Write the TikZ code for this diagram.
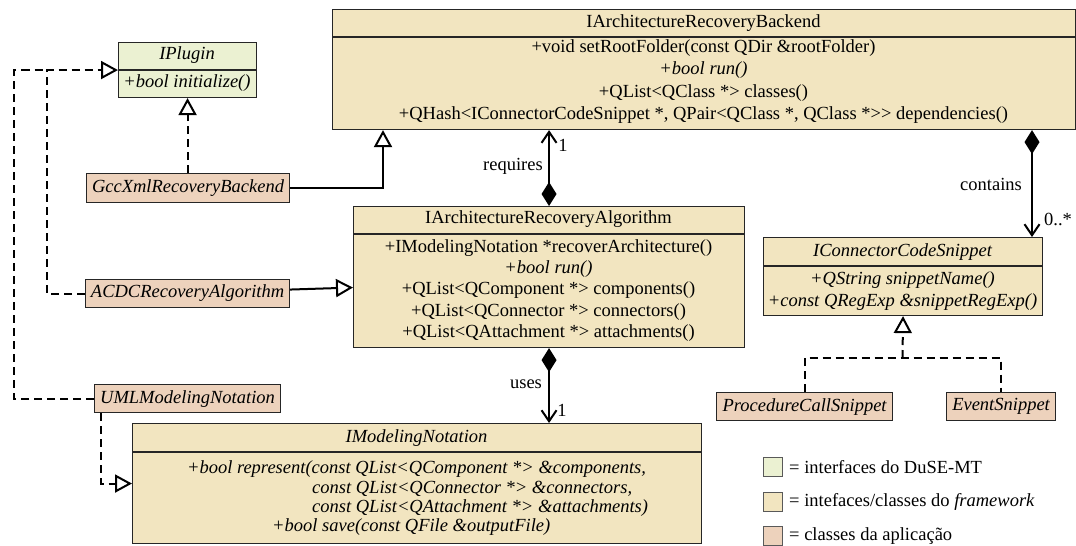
\documentclass[tikz,border=0pt]{standalone}
\usepackage{fontspec}
\setmainfont{Liberation Serif}
\usetikzlibrary{arrows.meta}
\definecolor{plug}{RGB}{235,241,210}
\definecolor{frame}{RGB}{242,229,192}
\definecolor{app}{RGB}{237,210,188}
\begin{document}
\begin{tikzpicture}[x=1pt,y=-1pt,
  every node/.style={font=\fontsize{18.5}{20.5}\selectfont},
  cls/.style={draw=black!85, line width=1.1pt, inner sep=0pt, anchor=north west},
  dv/.style={draw=black!85, line width=1.1pt},
  ln/.style={inner sep=0pt, text height=13pt, text depth=4pt},
  it/.style={font=\fontsize{18.5}{20.5}\selectfont\itshape},
  conn/.style={line width=2pt},
  dconn/.style={line width=2pt, dash pattern=on 8pt off 5pt},
  real/.style={-{Triangle[open,length=17pt,width=18pt]}},
  comp/.style={{Diamond[length=24pt,width=15pt]}-{Straight Barb[length=11pt,width=15pt]}},
  leg/.style={draw=black!65, line width=0.9pt, minimum size=19pt, inner sep=0pt}
]
\useasboundingbox (0,0) rectangle (1076,546);

% ---------- class boxes ----------
\node[cls, fill=plug, minimum width=138pt, minimum height=55pt] (iplugin) at (118,42) {};
\draw[dv] (118,70) -- (256,70);
\node[ln, it] (iplugin-t) at (187,55) {IPlugin};
\node[ln, it] (iplugin-m) at (187,83) {+bool initialize()};

\node[cls, fill=frame, minimum width=743pt, minimum height=120pt] (backend) at (332,9) {};
\draw[dv] (332,37) -- (1075,37);
\node[ln] (backend-t) at (703.5,23) {IArchitectureRecoveryBackend};
\node[ln] (backend-1) at (703.5,48) {+void setRootFolder(const QDir \&rootFolder)};
\node[ln, it] (backend-2) at (703.5,70) {+bool run()};
\node[ln] (backend-3) at (703.5,93) {+QList<QClass *> classes()};
\node[ln] (backend-4) at (703.5,115) {+QHash<IConnectorCodeSnippet *, QPair<QClass *, QClass *>{}> dependencies()};

\node[cls, fill=frame, minimum width=391pt, minimum height=141pt] (alg) at (353,206) {};
\draw[dv] (353,234) -- (744,234);
\node[ln] (alg-t) at (548.5,219) {IArchitectureRecoveryAlgorithm};
\node[ln] (alg-1) at (548.5,248) {+IModelingNotation *recoverArchitecture()};
\node[ln, it] (alg-2) at (548.5,269) {+bool run()};
\node[ln] (alg-3) at (548.5,290) {+QList<QComponent *> components()};
\node[ln] (alg-4) at (548.5,312) {+QList<QConnector *> connectors()};
\node[ln] (alg-5) at (548.5,333) {+QList<QAttachment *> attachments()};

\node[cls, fill=frame, minimum width=279pt, minimum height=78pt] (snip) at (763,237) {};
\draw[dv] (763,266) -- (1042,266);
\node[ln, it] (snip-t) at (902.5,252) {IConnectorCodeSnippet};
\node[ln, it] (snip-1) at (902.5,280) {+QString snippetName()};
\node[ln, it] (snip-2) at (902.5,302) {+const QRegExp \&snippetRegExp()};

\node[cls, fill=frame, minimum width=569pt, minimum height=120pt] (imod) at (132,423) {};
\draw[dv] (132,452) -- (701,452);
\node[ln, it] (imod-t) at (416.5,438) {IModelingNotation};
\node[ln, it] (imod-1) at (416.5,469) {+bool represent(const QList<QComponent *> \&components,};
\node[ln, it, anchor=west] (imod-2) at (312,488.5) {const QList<QConnector *> \&connectors,};
\node[ln, it, anchor=west] (imod-3) at (312,507.5) {const QList<QAttachment *> \&attachments)};
\node[ln, it, anchor=west] (imod-4) at (272,526.5) {+bool save(const QFile \&outputFile)};

\node[cls, fill=app, minimum width=203pt, minimum height=29pt, it] (gcc) at (86,173) {GccXmlRecoveryBackend};
\node[cls, fill=app, minimum width=204pt, minimum height=28pt, it] (acdc) at (85,279) {ACDCRecoveryAlgorithm};
\node[cls, fill=app, minimum width=186pt, minimum height=28pt, it] (uml) at (94,384) {UMLModelingNotation};
\node[cls, fill=app, minimum width=176pt, minimum height=28pt, it] (proc) at (716,392) {ProcedureCallSnippet};
\node[cls, fill=app, minimum width=109pt, minimum height=28pt, it] (event) at (946,392) {EventSnippet};

% ---------- helper coordinates ----------
\coordinate (x14) at (14,0);
\coordinate (x47) at (47,0);
\coordinate (x383) at (383,0);
\coordinate (x1032) at (1032,0);
\coordinate (jn) at (902.5,358);

% ---------- connectors ----------
\draw[conn, real] (gcc.east) -| (backend.south -| x383);
\draw[dconn, real] (gcc.north -| iplugin.south) -- (iplugin.south);
\draw[dconn] (uml.west) -| (iplugin.west -| x14) -- (iplugin.west -| x47);
\draw[dconn, real] (acdc.west) -| (iplugin.west -| x47) -- (iplugin.west);
\draw[conn, real] ([yshift=4pt]acdc.east) -- ([yshift=-10.5pt]alg.west);
\draw[dconn, real] ([xshift=7pt]uml.south west) |- (imod.west);

\draw[conn, comp] (alg.north) -- (alg.north |- backend.south);
\node (req) at (513,166) {requires};
\node (req1) at (563,145) {1};

\draw[conn, comp] (alg.south) -- (alg.south |- imod.north);
\node (uses) at (526,384) {uses};
\node (uses1) at (562,410) {1};

\draw[conn, comp] (backend.south -| x1032) -- (snip.north -| x1032);
\node (cont) at (991,184) {contains};
\node (cont1) at (1058,219) {0..*};

\draw[dconn] (proc.north) |- (jn) -| (event.north);
\draw[dconn, real] (jn) -- (snip.south);

% ---------- legend ----------
\node[leg, fill=plug] (lg1) at (773,467) {};
\node[leg, fill=frame] (lg2) at (773,502) {};
\node[leg, fill=app] (lg3) at (773,536) {};
\node[anchor=west, inner sep=0pt] (lt1) at (789,467) {= interfaces do DuSE-MT};
\node[anchor=west, inner sep=0pt] (lt2) at (789,502) {= intefaces/classes do \textit{framework}};
\node[anchor=west, inner sep=0pt] (lt3) at (789,536) {= classes da aplicação};
\end{tikzpicture}
\end{document}
